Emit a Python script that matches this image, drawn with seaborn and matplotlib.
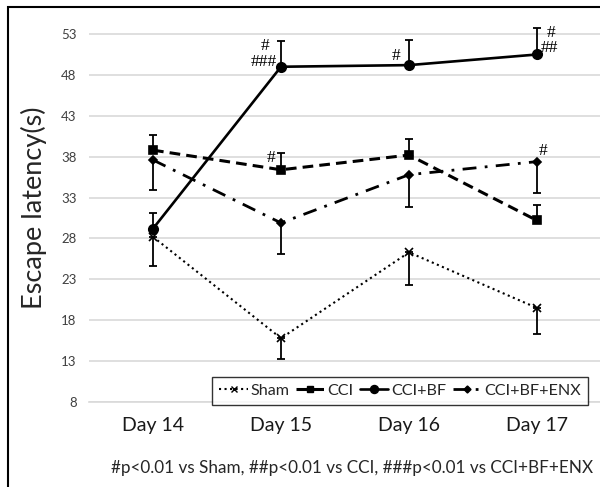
import matplotlib
matplotlib.use("Agg")
import matplotlib.pyplot as plt
import seaborn as sns
import numpy as np
from matplotlib.patches import Rectangle
from matplotlib.lines import Line2D

days = ["Day 14", "Day 15", "Day 16", "Day 17"]
sham = [28.2, 15.8, 26.3, 19.5]
sham_err = [3.6, 2.5, 4.0, 3.2]        # drawn downward
cci = [38.8, 36.4, 38.2, 30.2]
cci_err = [1.9, 2.0, 2.0, 1.9]         # drawn upward
bf = [29.2, 49.0, 49.2, 50.5]
bf_err = [1.9, 3.2, 3.1, 3.3]          # drawn upward
enx = [37.6, 29.9, 35.8, 37.4]
enx_err = [3.7, 3.8, 4.0, 3.9]         # drawn downward
yticks = [8, 13, 18, 23, 28, 33, 38, 43, 48, 53]
footnote = "#p<0.01 vs Sham, ##p<0.01 vs CCI, ###p<0.01 vs CCI+BF+ENX"

sns.set_style("white")
plt.rcParams['font.family'] = ['Lato', 'DejaVu Sans']

W, H = 600, 487
fig = plt.figure(figsize=(W / 100, H / 100), dpi=100)
ax = fig.add_axes([89 / W, 1 - 402 / H, 512 / W, 388.4 / H])

x = np.arange(len(days))

series = [
    ("Sham", sham, sham_err, "down", ":", "x", 5.5, 1.5),
    ("CCI", cci, cci_err, "up", (0, (3.5, 2)), "s", 5.2, 2.2),
    ("CCI+BF", bf, bf_err, "up", "-", "o", 6.8, 1.9),
    ("CCI+BF+ENX", enx, enx_err, "down", (0, (5, 3, 1, 3)), "D", 4.2, 2.0),
]

handles = []
for name, vals, err, direction, ls, mk, ms, lw in series:
    sns.lineplot(x=x, y=vals, ax=ax, color="black", linestyle=ls, linewidth=lw,
                 marker=mk, markersize=ms, markeredgecolor="black",
                 markerfacecolor="black", markeredgewidth=1.2, zorder=3)
    e = np.array(err)
    yerr = [e, np.zeros_like(e)] if direction == "down" else [np.zeros_like(e), e]
    ax.errorbar(x, vals, yerr=yerr, fmt="none", ecolor="black", elinewidth=1.3,
                capsize=3, capthick=1.3, zorder=2)
    handles.append(Line2D([0], [0], color="black", linestyle=ls, linewidth=lw,
                          marker=mk, markersize=ms * 0.85, markerfacecolor="black",
                          markeredgecolor="black", label=name))

ax.set_xlim(-0.5, 3.5)
ax.set_ylim(8, 55.5)
ax.set_yticks(yticks)
ax.set_xticks(x)
ax.set_xticklabels(days, fontsize=14, color="#1a1a1a")
ax.tick_params(axis="y", labelsize=9.5, labelcolor="#404040", length=0, pad=9)
ax.tick_params(axis="x", length=0, pad=11)
ax.set_xticks([0.5, 1.5, 2.5], minor=True)
ax.tick_params(axis="x", which="minor", length=8, color="#d9d9d9", width=1)
ax.grid(axis="y", color="#d9d9d9", linewidth=1.2)
ax.set_axisbelow(True)
for s in ["top", "right", "left"]:
    ax.spines[s].set_visible(False)
ax.spines["bottom"].set_color("#d9d9d9")
ax.spines["bottom"].set_linewidth(1.2)
ax.set_xlabel("")
ax.set_ylabel("Escape latency(s)", fontsize=19.5, labelpad=10)

# significance marks
serif = dict(family=["Liberation Serif", "DejaVu Serif"], fontsize=12.5, color="black")
def mark(i, val, txt, dx, dy, ha="center"):
    ax.annotate(txt, xy=(i, val), xytext=(dx, dy), textcoords="offset pixels",
                ha=ha, va="center", **serif)

mark(1, bf[1], "#", -16, 21)
mark(1, bf[1], "###", -4, 5, ha="right")
mark(1, cci[1], "#", -10, 12)
mark(2, bf[2], "#", -13, 9)
mark(3, bf[3], "#", 14, 21)
mark(3, bf[3], "##", 12, 6)
mark(3, enx[3], "#", 6, 11)

leg = fig.legend(handles=handles, loc="center", bbox_to_anchor=(400 / W, 1 - 391 / H),
                 ncol=4, frameon=True, fontsize=11.6, handlelength=1.75,
                 handletextpad=0.15, columnspacing=0.45, borderpad=0.45,
                 fancybox=False, edgecolor="black")
leg.get_frame().set_linewidth(1.0)

fig.text(352 / W, 1 - 468 / H, footnote, ha="center", va="center", fontsize=12.3)

fig.patches.append(Rectangle((8 / W, -0.1), 1.2, 1.1 - 7 / H, transform=fig.transFigure,
                             fill=False, edgecolor="black", linewidth=1.5))

fig.savefig("out.png", dpi=100)
